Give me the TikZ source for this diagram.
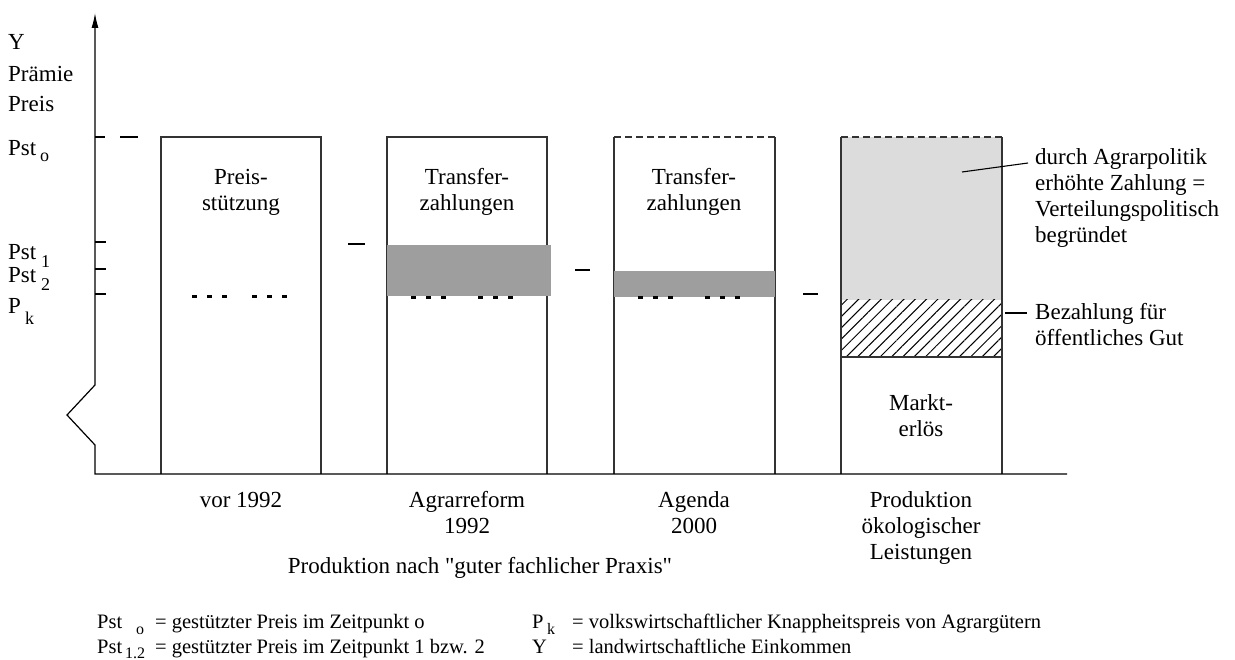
\documentclass[tikz,border=0pt]{standalone}
\usepackage{fontspec}
\setmainfont{Liberation Serif}
\newfontfamily\qfont{Liberation Serif}
\usetikzlibrary{arrows.meta,patterns.meta}
\definecolor{darkband}{HTML}{9E9E9E}
\definecolor{lightband}{HTML}{DCDCDC}
\tikzset{
  axis/.style={line width=1.2pt, black},
  barline/.style={line width=1.3pt, black!80},
  topdash/.style={line width=1.3pt, black!80, dash pattern=on 7pt off 4pt},
  dotline/.style={line width=3pt, black, dash pattern=on 5pt off 10pt},
  stair/.style={line width=1.2pt, black},
  lbl/.style={inner sep=0pt, font=\fontsize{23}{26}\selectfont},
  sublbl/.style={inner sep=0pt, font=\fontsize{18}{20}\selectfont},
  leg/.style={inner sep=0pt, font=\fontsize{20.5}{24}\selectfont},
  legsub/.style={inner sep=0pt, font=\fontsize{16}{18}\selectfont},
  pointer/.style={line width=1.1pt, black}
}
\begin{document}
\begin{tikzpicture}[x=1pt,y=-1pt]
\useasboundingbox (0,0) rectangle (1235,660);
% fills first
\fill[lightband] (841,137) rectangle (1002,300);
\fill[pattern={Lines[angle=45,distance=8pt,line width=1pt]}] (841,300) rectangle (1002,357);
% bars
\draw[barline] (161,474) -- (161,137) -- (321,137) -- (321,474);
\draw[barline] (387,474) -- (387,137) -- (547,137) -- (547,474);
\draw[barline] (614,474) -- (614,137);
\draw[barline] (775,474) -- (775,137);
\draw[topdash] (614,137) -- (775,137);
\draw[barline] (841,474) -- (841,137);
\draw[barline] (1002,474) -- (1002,137);
\draw[topdash] (841,137) -- (1002,137);
\draw[barline] (841,357) -- (1002,357);
% dark bands
\fill[darkband] (387,245) rectangle (551,296);
\fill[darkband] (614,271) rectangle (775,297);
% dotted Pk lines
\draw[dotline] (192,297) -- (227,297);
\draw[dotline] (252,297) -- (287,297);
\draw[dotline] (411,298) -- (446,298);
\draw[dotline] (478,298) -- (513,298);
\draw[dotline] (638,298) -- (673,298);
\draw[dotline] (705,298) -- (740,298);
% axes
\draw[axis, -{Latex[length=15pt,width=7pt]}] (1067,474) -- (95,474) -- (95,445) -- (67,415) -- (95,385) -- (95,13);
% ticks
\draw[axis] (95,137) -- (105,137);
\draw[axis] (95,242) -- (106,242);
\draw[axis] (95,269) -- (106,269);
\draw[axis, line width=2.5pt] (95,294) -- (106,294);
% stair dashes
\draw[stair] (120,137) -- (138,137);
\draw[stair] (348,244) -- (365,244);
\draw[stair] (575,270) -- (590,270);
\draw[stair] (803,294) -- (818,294);
% axis labels
\node[lbl, anchor=base west] (ly) at (8,50) {Y};
\node[lbl, anchor=base west] (lpr) at (8,82) {Prämie};
\node[lbl, anchor=base west] (lpreis) at (8,112) {Preis};
\node[lbl, anchor=base west] (lpst0) at (8,156) {Pst};
\node[sublbl, anchor=base west] (lpst0s) at (40,162) {o};
\node[lbl, anchor=base west] (lpst1) at (8,260) {Pst};
\node[sublbl, anchor=base west] (lpst1s) at (41,268) {1};
\node[lbl, anchor=base west] (lpst2) at (8,283) {Pst};
\node[sublbl, anchor=base west] (lpst2s) at (41,291) {2};
\node[lbl, anchor=base west] (lpk) at (8,314) {P};
\node[sublbl, anchor=base west] (lpks) at (25,325) {k};
% bar labels (anchor base = last line)
\node[lbl, anchor=base, align=center] (t1) at (241,211) {Preis-\\stützung};
\node[lbl, anchor=base, align=center] (t2) at (467,211) {Transfer-\\zahlungen};
\node[lbl, anchor=base, align=center] (t3) at (694,211) {Transfer-\\zahlungen};
\node[lbl, anchor=base, align=center] (t4) at (921,436) {Markt-\\erlös};
% x labels
\node[lbl, anchor=base, align=center] (x1) at (241,507) {vor 1992};
\node[lbl, anchor=base, align=center] (x2) at (467,533) {Agrarreform\\1992};
\node[lbl, anchor=base, align=center] (x3) at (694,533) {Agenda\\2000};
\node[lbl, anchor=base, align=center] (x4) at (921,559) {Produktion\\ökologischer\\Leistungen};
\node[lbl, anchor=base] (xn) at (480,573) {Produktion nach {\qfont"}guter fachlicher Praxis{\qfont"}};
% right annotations
\node[lbl, anchor=base west, align=left] (a1) at (1035,243) {durch Agrarpolitik\\erhöhte Zahlung =\\Verteilungspolitisch\\begründet};
\node[lbl, anchor=base west, align=left] (a2) at (1035,346) {Bezahlung für\\öffentliches Gut};
\coordinate (p1) at (962,172);
\coordinate (p2) at (1005,313);
\draw[pointer] (p1) -- (1028,163);
\draw[pointer] (p2) -- (1027,313);
% legend
\node[leg, anchor=base west] (g1) at (97,628) {Pst};
\node[legsub, anchor=base west] (g1s) at (136,634) {o};
\node[leg, anchor=base west] (g1t) at (155,628) {= gestützter Preis im Zeitpunkt o};
\node[leg, anchor=base west] (g2) at (97,653) {Pst};
\node[legsub, anchor=base west] (g2s) at (125,658) {1.2};
\node[leg, anchor=base west] (g2t) at (155,653) {= gestützter Preis im Zeitpunkt 1 bzw. 2};
\node[leg, anchor=base west] (g3) at (532,628) {P};
\node[legsub, anchor=base west] (g3s) at (547,634) {k};
\node[leg, anchor=base west] (g3t) at (572,628) {= volkswirtschaftlicher Knappheitspreis von Agrargütern};
\node[leg, anchor=base west] (g4) at (532,653) {Y};
\node[leg, anchor=base west] (g4t) at (572,653) {= landwirtschaftliche Einkommen};
\end{tikzpicture}
\end{document}
